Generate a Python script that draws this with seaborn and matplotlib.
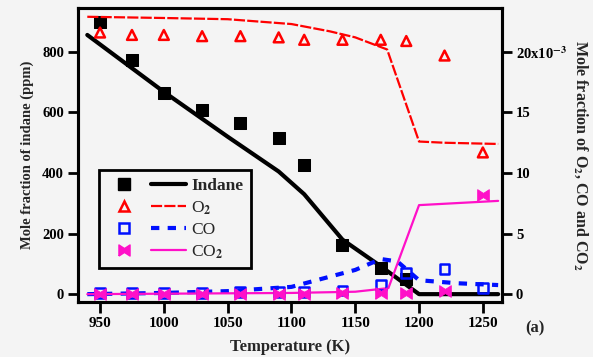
import numpy as np
import pandas as pd
import matplotlib
matplotlib.use('Agg')
import matplotlib.pyplot as plt
from matplotlib.lines import Line2D
from matplotlib.legend_handler import HandlerTuple
import seaborn as sns

# ---- data ----
# measured points (K)
t_pts = [950, 975, 1000, 1030, 1060, 1090, 1110, 1140, 1170, 1190, 1220, 1250]
indane_t = [950, 975, 1000, 1030, 1060, 1090, 1110, 1140, 1170, 1190]
indane_pts = [899, 774, 665, 608, 565, 516, 426, 162, 86, 50]          # ppm
o2_pts = [21.6, 21.4, 21.4, 21.3, 21.3, 21.2, 21.0, 21.0, 21.0, 20.9, 19.7, 11.7]  # x1e-3
co_pts = [0.1, 0.1, 0.1, 0.1, 0.2, 0.2, 0.2, 0.3, 0.75, 1.75, 2.1, 0.5]
co2_pts = [0.0, 0.0, 0.0, 0.0, 0.0, 0.0, 0.0, 0.1, 0.1, 0.1, 0.3, 8.2]

# model curves
indane_line_t = [940, 1000, 1050, 1090, 1110, 1140, 1170, 1200, 1262]
indane_line = [856, 668, 520, 405, 330, 180, 92, 0, 0]
o2_line_t = [940, 1000, 1050, 1100, 1130, 1150, 1175, 1200, 1220, 1262]
o2_line = [22.9, 22.8, 22.7, 22.3, 21.7, 21.2, 20.2, 12.6, 12.5, 12.4]
co_line_t = [940, 1000, 1050, 1100, 1125, 1150, 1170, 1183, 1200, 1230, 1262]
co_line = [0.0, 0.1, 0.25, 0.6, 1.3, 2.0, 2.9, 2.7, 1.15, 0.9, 0.75]
co2_line_t = [940, 1100, 1150, 1176, 1200, 1262]
co2_line = [0.0, 0.1, 0.2, 0.5, 7.35, 7.7]

sns.set_theme(style='ticks')
plt.rcParams['font.family'] = ['Liberation Serif', 'DejaVu Serif']
plt.rcParams['font.weight'] = 'bold'
plt.rcParams['mathtext.fontset'] = 'stix'

bg = '#f4f4f4'
fig = plt.figure(figsize=(5.93, 3.57), dpi=100, facecolor=bg)
ax = fig.add_axes([0.1315, 0.154, 0.715, 0.8236])
ax.set_facecolor(bg)
ax2 = ax.twinx()

RED = '#ff0000'
BLUE = '#0010ff'
PINK = '#ff10c8'

bowtie = [(-1, -1), (-1, 1), (0, 0.35), (1, 1), (1, -1), (0, -0.35), (-1, -1)]

# lines
sns.lineplot(x=indane_line_t, y=indane_line, ax=ax, color='black', lw=3,
             sort=False, estimator=None)
sns.lineplot(x=o2_line_t, y=o2_line, ax=ax2, color=RED, lw=1.6,
             sort=False, estimator=None, linestyle=(0, (5, 1)))
sns.lineplot(x=co_line_t, y=co_line, ax=ax2, color=BLUE, lw=3,
             sort=False, estimator=None, linestyle=(0, (2, 2)))
sns.lineplot(x=co2_line_t, y=co2_line, ax=ax2, color=PINK, lw=1.6,
             sort=False, estimator=None)

# points
sns.scatterplot(x=indane_t, y=indane_pts, ax=ax, marker='s', s=85,
                color='black', edgecolor='black', zorder=5)
sns.scatterplot(x=t_pts, y=o2_pts, ax=ax2, marker='^', s=50,
                facecolor='none', edgecolor=RED, linewidth=1.8, zorder=5)
sns.scatterplot(x=t_pts, y=co_pts, ax=ax2, marker='s', s=50,
                facecolor='none', edgecolor=BLUE, linewidth=1.8, zorder=5)
sns.scatterplot(x=t_pts, y=co2_pts, ax=ax2, marker=bowtie, s=70,
                color=PINK, edgecolor=PINK, zorder=6)

# axes
ax.set_xlim(932.7, 1265)
ax.set_ylim(-26, 945)
ax2.set_ylim(-26 / 40, 945 / 40)
ax.set_xticks([950, 1000, 1050, 1100, 1150, 1200, 1250])
ax.set_yticks([0, 200, 400, 600, 800])
ax2.set_yticks([0, 5, 10, 15, 20])
ax2.set_yticklabels(['0', '5', '10', '15', r'20x10$^{\mathbf{-3}}$'])

for a in (ax, ax2):
    for sp in a.spines.values():
        sp.set_linewidth(2.2)
        sp.set_color('black')
    a.tick_params(direction='out', length=7, width=2, labelsize=10.5,
                  colors='black', pad=3)
ax.tick_params(axis='x', length=8, labelsize=11)

ax.set_xlabel('Temperature (K)', fontsize=12, fontweight='bold', labelpad=6)
ax.set_ylabel('Mole fraction of indane (ppm)', fontsize=10.5,
              fontweight='bold', labelpad=6)
ax2.set_ylabel('Mole fraction of O$_2$, CO and CO$_2$', fontsize=11.5,
               fontweight='bold', rotation=270, labelpad=16)
fig.text(0.885, 0.068, '(a)', fontsize=12, fontweight='bold')

# legend: marker then line
h_ind = (Line2D([], [], marker='s', ls='none', color='black', ms=8),
         Line2D([], [], color='black', lw=3))
h_o2 = (Line2D([], [], marker='^', ls='none', mfc='none', mec=RED, mew=1.8, ms=7),
        Line2D([], [], color=RED, lw=1.6, ls=(0, (5, 1))))
h_co = (Line2D([], [], marker='s', ls='none', mfc='none', mec=BLUE, mew=1.8, ms=7),
        Line2D([], [], color=BLUE, lw=3, ls=(0, (2, 2))))
h_co2 = (Line2D([], [], marker=bowtie, ls='none', color=PINK, ms=8),
         Line2D([], [], color=PINK, lw=1.6))
leg = ax.legend([h_ind, h_o2, h_co, h_co2], ['Indane', 'O$_2$', 'CO', 'CO$_2$'],
                handler_map={tuple: HandlerTuple(ndivide=None, pad=0.6)},
                loc='lower left', bbox_to_anchor=(0.028, 0.085),
                handlelength=4.6, fancybox=False, framealpha=1,
                edgecolor='black', facecolor=bg, fontsize=12.5,
                borderpad=0.45, labelspacing=0.3, handletextpad=0.3)
leg.get_frame().set_linewidth(2)
for t in leg.get_texts():
    t.set_fontweight('normal')
leg.get_texts()[0].set_fontweight('bold')

fig.savefig('out.png', dpi=100, facecolor=bg)
